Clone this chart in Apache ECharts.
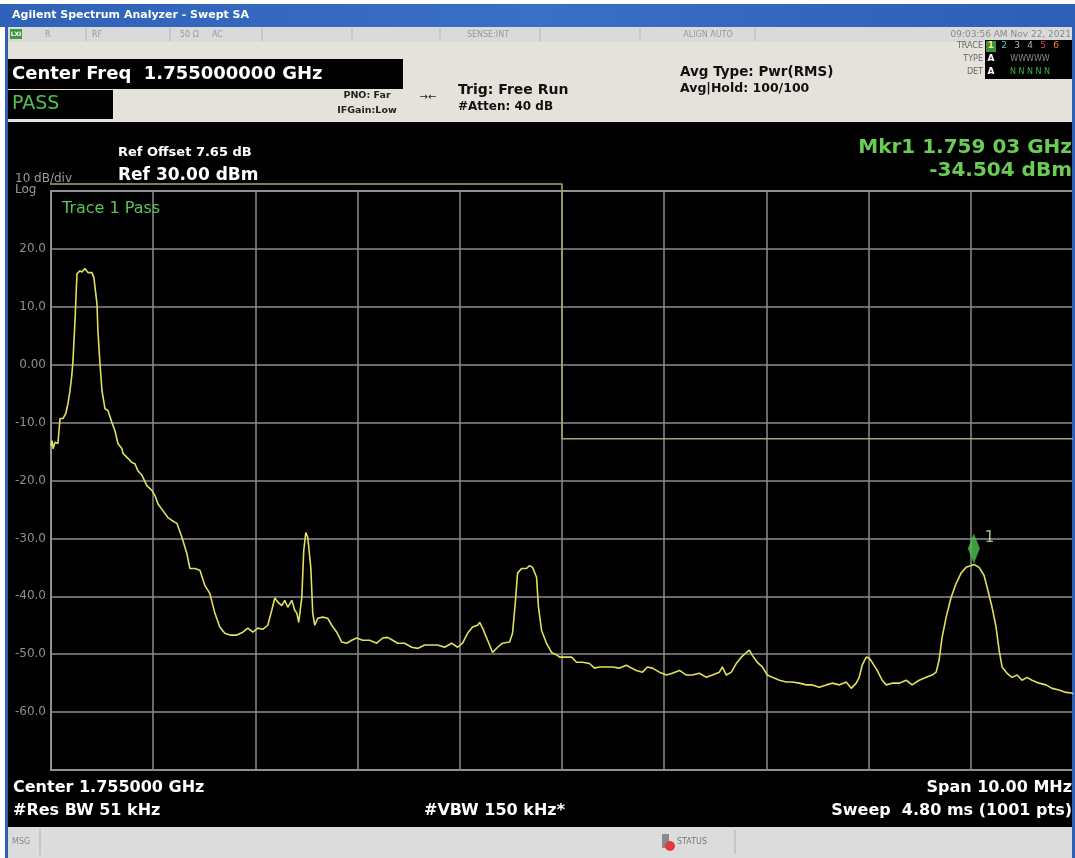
<!DOCTYPE html>
<html>
<head>
<meta charset="utf-8">
<title>Swept SA</title>
<script src="https://cdn.jsdelivr.net/npm/echarts@6/dist/echarts.min.js"></script>
<style>
  html, body { margin: 0; padding: 0; background: #fff; }
  #chart { width: 1075px; height: 858px; }
</style>
</head>
<body>
<div id="chart"></div>
<script>
// Span 10 MHz around 1.755 GHz -> 1750..1760 MHz. Offsets below are MHz above the start.
const startFreqMHz = 1750;
const stopFreqMHz = 1760;

// trace 1 (dBm)
const traceOffsetMHz = [
  0.000, 0.010, 0.020, 0.039, 0.068, 0.088, 0.117, 0.147, 0.166, 0.186,
  0.205, 0.215, 0.235, 0.254, 0.283, 0.303, 0.332, 0.362, 0.381, 0.401,
  0.420, 0.450, 0.459, 0.479, 0.499, 0.528, 0.557, 0.596, 0.626, 0.655,
  0.694, 0.704, 0.743, 0.792, 0.821, 0.850, 0.890, 0.938, 0.987, 1.017,
  1.046, 1.095, 1.144, 1.183, 1.232, 1.281, 1.329, 1.359, 1.408, 1.457,
  1.505, 1.554, 1.603, 1.652, 1.701, 1.750, 1.818, 1.877, 1.926, 1.975,
  2.023, 2.072, 2.121, 2.160, 2.190, 2.219, 2.258, 2.287, 2.317, 2.356,
  2.385, 2.405, 2.424, 2.454, 2.473, 2.493, 2.512, 2.542, 2.561, 2.581,
  2.610, 2.659, 2.708, 2.747, 2.796, 2.845, 2.893, 2.942, 2.991, 3.050,
  3.118, 3.187, 3.245, 3.294, 3.343, 3.392, 3.460, 3.529, 3.587, 3.656,
  3.724, 3.783, 3.851, 3.920, 3.978, 4.027, 4.076, 4.125, 4.174, 4.194,
  4.223, 4.272, 4.321, 4.370, 4.418, 4.487, 4.516, 4.545, 4.565, 4.604,
  4.653, 4.682, 4.712, 4.751, 4.770, 4.800, 4.848, 4.897, 4.956, 4.976,
  5.044, 5.093, 5.142, 5.200, 5.269, 5.318, 5.367, 5.435, 5.494, 5.562,
  5.630, 5.679, 5.728, 5.787, 5.836, 5.885, 5.953, 6.022, 6.080, 6.149,
  6.217, 6.276, 6.344, 6.413, 6.471, 6.540, 6.569, 6.608, 6.657, 6.706,
  6.755, 6.804, 6.833, 6.862, 6.911, 6.960, 7.009, 7.058, 7.126, 7.195,
  7.253, 7.322, 7.390, 7.449, 7.517, 7.586, 7.644, 7.713, 7.781, 7.830,
  7.879, 7.908, 7.937, 7.977, 8.006, 8.035, 8.084, 8.133, 8.172, 8.231,
  8.299, 8.368, 8.426, 8.495, 8.563, 8.622, 8.661, 8.690, 8.719, 8.759,
  8.807, 8.856, 8.905, 8.954, 9.003, 9.032, 9.081, 9.130, 9.159, 9.208,
  9.247, 9.277, 9.306, 9.355, 9.404, 9.453, 9.501, 9.550, 9.599, 9.668,
  9.736, 9.795, 9.863, 9.932, 9.990, 10.000
];
const traceLevelDbm = [
  -14.0, -13.1, -14.5, -13.4, -13.6, -9.3, -9.3, -8.3, -6.7, -4.5,
  -1.6, 0.7, 7.6, 15.7, 16.2, 16.0, 16.6, 15.9, 16.2, 15.9,
  15.0, 10.5, 5.9, 0.2, -4.5, -7.6, -7.9, -10.0, -11.4, -13.6,
  -14.5, -15.3, -16.0, -16.9, -17.1, -18.3, -19.1, -20.9, -21.7, -22.6,
  -24.0, -25.2, -26.4, -26.9, -27.4, -29.8, -32.6, -35.2, -35.2, -35.5,
  -38.1, -39.5, -42.9, -45.3, -46.4, -46.7, -46.7, -46.2, -45.5, -46.2,
  -45.5, -45.7, -45.0, -42.4, -40.3, -41.0, -41.6, -40.7, -41.9, -40.7,
  -42.4, -42.9, -44.5, -40.2, -32.1, -29.0, -29.8, -35.0, -42.9, -45.0,
  -43.8, -43.6, -43.8, -45.0, -46.2, -47.9, -48.1, -47.6, -47.2, -47.6,
  -47.6, -48.1, -47.2, -47.1, -47.6, -48.1, -48.1, -48.8, -49.0, -48.4,
  -48.4, -48.4, -48.8, -48.1, -48.8, -48.1, -46.4, -45.3, -45.0, -44.5,
  -45.5, -47.6, -49.7, -48.8, -48.1, -47.9, -46.4, -40.7, -36.0, -35.2,
  -35.2, -34.7, -35.0, -36.7, -41.9, -45.9, -48.1, -49.7, -50.2, -50.5,
  -50.5, -50.5, -51.4, -51.4, -51.6, -52.4, -52.2, -52.2, -52.2, -52.4,
  -51.9, -52.4, -52.8, -53.1, -52.2, -52.4, -53.1, -53.6, -53.3, -52.8,
  -53.6, -53.6, -53.3, -54.0, -53.6, -53.1, -52.2, -53.6, -53.1, -51.6,
  -50.5, -49.7, -49.3, -50.2, -51.4, -52.2, -53.6, -54.0, -54.5, -54.8,
  -54.8, -55.0, -55.3, -55.3, -55.7, -55.3, -55.0, -55.3, -54.8, -55.9,
  -55.0, -54.0, -51.9, -50.5, -50.7, -51.4, -52.8, -54.5, -55.3, -55.0,
  -55.0, -54.5, -55.3, -54.5, -54.0, -53.6, -53.1, -51.0, -47.1, -43.6,
  -40.2, -37.8, -36.0, -35.0, -34.7, -34.5, -35.0, -36.4, -38.4, -41.9,
  -45.3, -49.3, -52.2, -53.3, -54.0, -53.6, -54.5, -54.0, -54.5, -55.0,
  -55.3, -55.9, -56.2, -56.6, -56.7, -56.9
];

// pass/fail limit line
const limitOffsetMHz = [-0.3, 5.0, 5.0, 10.0];
const limitLevelDbm = [31.2, 31.2, -12.8, -12.8];

// marker 1
const markerOffsetMHz = 9.03;
const markerLevelDbm = -34.504;

// amplitude scale: Ref 30 dBm, 10 dB/div
const refLevelDbm = 30;
const bottomLevelDbm = -70;
const yTickLabels = { 20: "20.0", 10: "10.0", 0: "0.00", "-10": "-10.0", "-20": "-20.0",
  "-30": "-30.0", "-40": "-40.0", "-50": "-50.0", "-60": "-60.0" };

const FONT = "'DejaVu Sans', sans-serif";

function box(x, y, w, h, fill, z) {
  return { type: "rect", silent: true, z: z || 1, shape: { x: x, y: y, width: w, height: h }, style: { fill: fill } };
}
function txt(x, y, text, size, color, opts) {
  opts = opts || {};
  return {
    type: "text", silent: true, z: 10, x: x, y: y,
    style: {
      text: text, fill: color,
      font: (opts.bold ? "bold " : "") + size + "px " + FONT,
      textAlign: opts.align || "left", textVerticalAlign: "middle", verticalAlign: "middle"
    }
  };
}
function vline(x, y1, y2, color) {
  return { type: "line", silent: true, z: 2, shape: { x1: x, y1: y1, x2: x, y2: y2 }, style: { stroke: color, lineWidth: 1 } };
}

const chart = echarts.init(document.getElementById("chart"));

const graphics = [
  // window frame
  box(0, 0, 1075, 4, "#ffffff"),
  {
    type: "rect", silent: true, z: 1, shape: { x: 0, y: 4, width: 1075, height: 23 },
    style: { fill: new echarts.graphic.LinearGradient(0, 0, 1, 0, [
      { offset: 0, color: "#2f62b8" }, { offset: 0.5, color: "#3a6fc6" }, { offset: 1, color: "#2c5fb5" }]) }
  },
  box(0, 27, 5, 831, "#ffffff"),
  box(5, 27, 3, 831, "#2e5fb4"),
  box(1072, 27, 3, 831, "#2e5fb4"),
  txt(12, 15, "Agilent Spectrum Analyzer - Swept SA", 11, "#ffffff", { bold: true }),

  // status row
  box(8, 27, 1064, 15, "#dadada"),
  box(10, 29, 12, 10, "#3c9a3c", 2),
  txt(16, 34.5, "LXI", 6, "#ffffff", { align: "center", bold: true }),
  txt(45, 35, "R", 8, "#999999"),
  txt(92, 35, "RF", 8, "#999999"),
  txt(180, 35, "50 Ω", 8, "#999999"),
  txt(212, 35, "AC", 8, "#999999"),
  txt(488, 35, "SENSE:INT", 8, "#999999", { align: "center" }),
  txt(708, 35, "ALIGN AUTO", 8, "#999999", { align: "center" }),
  txt(1071, 35, "09:03:56 AM Nov 22, 2021", 9, "#8a8a8a", { align: "right" }),
  vline(86, 28, 41, "#b5b5b5"), vline(170, 28, 41, "#b5b5b5"), vline(262, 28, 41, "#b5b5b5"),
  vline(352, 28, 41, "#b5b5b5"), vline(440, 28, 41, "#b5b5b5"), vline(540, 28, 41, "#b5b5b5"),
  vline(640, 28, 41, "#b5b5b5"), vline(755, 28, 41, "#b5b5b5"),

  // settings panel
  box(8, 42, 1064, 80, "#e5e2db"),
  box(8, 59, 395, 30, "#000000", 2),
  txt(12, 74, "Center Freq  1.755000000 GHz", 18, "#ffffff", { bold: true }),
  box(8, 90, 105, 29, "#000000", 2),
  txt(12, 104, "PASS", 19, "#4fc04f"),
  txt(367, 96, "PNO: Far", 9.5, "#222222", { bold: true, align: "center" }),
  txt(367, 111, "IFGain:Low", 9.5, "#222222", { bold: true, align: "center" }),
  txt(428, 97, "→←", 10, "#222222", { align: "center" }),
  txt(458, 90, "Trig: Free Run", 14, "#111111", { bold: true }),
  txt(458, 107, "#Atten: 40 dB", 12, "#111111", { bold: true }),
  txt(680, 72, "Avg Type: Pwr(RMS)", 13.5, "#111111", { bold: true }),
  txt(680, 89, "Avg|Hold: 100/100", 12.5, "#111111", { bold: true }),
  txt(983, 46, "TRACE", 8, "#666666", { align: "right" }),
  txt(983, 59, "TYPE", 8, "#666666", { align: "right" }),
  txt(983, 72, "DET", 8, "#666666", { align: "right" }),
  box(985, 40, 87, 39, "#000000", 2),
  box(986, 41, 10, 11, "#3d8f3d", 3),
  txt(991, 46, "1", 9, "#f0f070", { align: "center", bold: true }),
  txt(1004, 46, "2", 9, "#66c8c8", { align: "center" }),
  txt(1017, 46, "3", 9, "#b0b0b0", { align: "center" }),
  txt(1030, 46, "4", 9, "#b0b0b0", { align: "center" }),
  txt(1043, 46, "5", 9, "#e04050", { align: "center" }),
  txt(1056, 46, "6", 9, "#ff8030", { align: "center" }),
  txt(991, 59, "A", 9, "#ffffff", { align: "center", bold: true }),
  txt(1030, 59, "WWWWW", 8, "#8a8a8a", { align: "center" }),
  txt(991, 72, "A", 9, "#ffffff", { align: "center", bold: true }),
  txt(1030, 72, "N N N N N", 8, "#3fb03f", { align: "center" }),

  // annotations on the screen
  txt(118, 153, "Ref Offset 7.65 dB", 13, "#ffffff", { bold: true }),
  txt(118, 176, "Ref 30.00 dBm", 17, "#ffffff", { bold: true }),
  txt(15, 179, "10 dB/div", 12, "#9a9a9a"),
  txt(15, 190, "Log", 12, "#9a9a9a"),
  txt(62, 209, "Trace 1 Pass", 16, "#5cc35c"),
  txt(1072, 148, "Mkr1 1.759 03 GHz", 20, "#6acb55", { bold: true, align: "right" }),
  txt(1072, 171, "-34.504 dBm", 20, "#6acb55", { bold: true, align: "right" }),

  // bottom annotations
  txt(13, 788, "Center 1.755000 GHz", 16, "#ffffff", { bold: true }),
  txt(13, 811, "#Res BW 51 kHz", 16, "#ffffff", { bold: true }),
  txt(424, 811, "#VBW 150 kHz*", 16, "#ffffff", { bold: true }),
  txt(1072, 788, "Span 10.00 MHz", 16, "#ffffff", { bold: true, align: "right" }),
  txt(1072, 811, "Sweep  4.80 ms (1001 pts)", 16, "#ffffff", { bold: true, align: "right" }),

  // message bar
  box(8, 827, 1064, 31, "#dcdcdc"),
  vline(40, 829, 855, "#b0b0b0"),
  txt(12, 842, "MSG", 8, "#888888"),
  box(662, 834, 7, 14, "#8a8a8a", 2),
  { type: "circle", silent: true, z: 3, shape: { cx: 670, cy: 846, r: 5 }, style: { fill: "#e03a3a" } },
  txt(677, 842, "STATUS", 8, "#777777"),
  vline(735, 830, 854, "#b0b0b0")
];

const option = {
  backgroundColor: "#000000",
  animation: false,
  grid: {
    left: 51, top: 191, width: 1022, height: 579,
    show: true, borderColor: "#9a9a9a", borderWidth: 2, backgroundColor: "transparent"
  },
  xAxis: {
    type: "value", min: startFreqMHz, max: stopFreqMHz, interval: 1,
    axisLine: { show: false }, axisTick: { show: false }, axisLabel: { show: false },
    splitLine: { show: true, lineStyle: { color: "#8c8c8c", width: 1.5 } }
  },
  yAxis: {
    type: "value", min: bottomLevelDbm, max: refLevelDbm, interval: 10,
    axisLine: { show: false }, axisTick: { show: false },
    axisLabel: {
      margin: 5, color: "#8f8f8f", fontFamily: "DejaVu Sans", fontSize: 12,
      formatter: (v) => yTickLabels[v] || ""
    },
    splitLine: { show: true, lineStyle: { color: "#8c8c8c", width: 1.5 } }
  },
  graphic: graphics,
  series: [
    {
      name: "Limit",
      type: "line",
      clip: false,
      showSymbol: false,
      silent: true,
      z: 2,
      lineStyle: { color: "#a9a56c", width: 1.5 },
      data: limitOffsetMHz.map((f, i) => [startFreqMHz + f, limitLevelDbm[i]])
    },
    {
      name: "Trace 1",
      type: "line",
      showSymbol: false,
      silent: true,
      z: 3,
      lineStyle: { color: "#e0e05c", width: 1.6 },
      data: traceOffsetMHz.map((f, i) => [startFreqMHz + f, traceLevelDbm[i]])
    },
    {
      name: "Mkr1",
      type: "scatter",
      silent: true,
      z: 4,
      symbol: "diamond",
      symbolSize: [12, 30],
      symbolOffset: [0, -16],
      itemStyle: { color: "#4fc44f" },
      label: {
        show: true, position: "right", offset: [0, -10], formatter: "1",
        color: "#d8e8b0", fontFamily: "DejaVu Sans", fontSize: 15
      },
      data: [[startFreqMHz + markerOffsetMHz, markerLevelDbm]]
    }
  ]
};

chart.setOption(option);
</script>
</body>
</html>
